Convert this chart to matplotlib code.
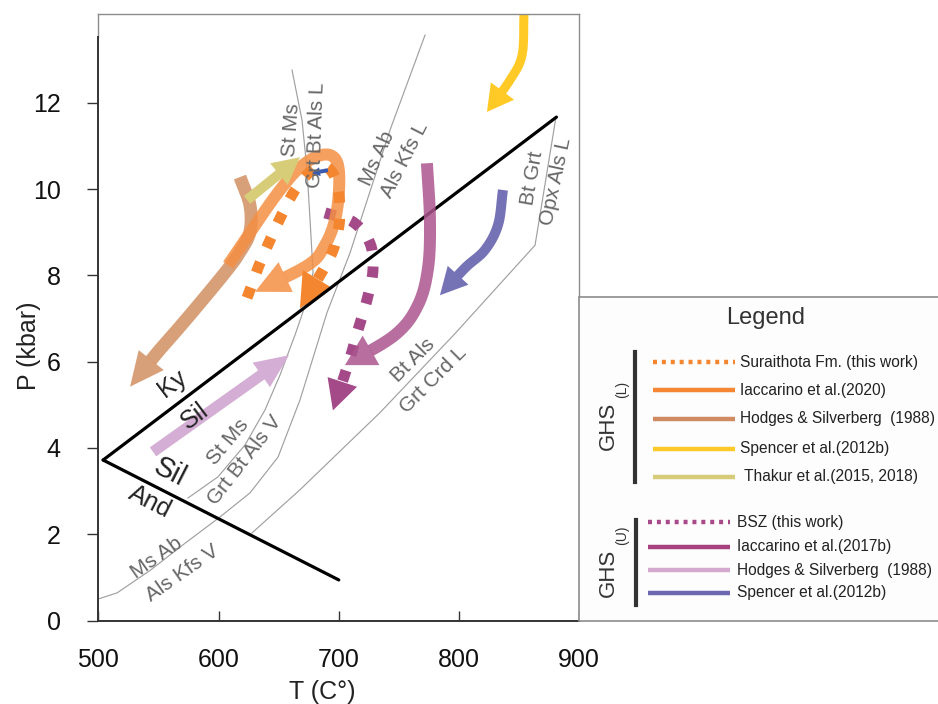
import numpy as np
import matplotlib
matplotlib.use("Agg")
import matplotlib.pyplot as plt
from matplotlib.patches import Polygon, Rectangle

plt.rcParams['font.family'] = ['Liberation Sans', 'DejaVu Sans']

# ---------------- data ----------------
T_TICKS = [500, 600, 700, 800, 900]
P_TICKS = [0, 2, 4, 6, 8, 10, 12]

# Aluminosilicate triple point lines
KY_SIL_T = [504, 881]
KY_SIL_P = [3.72, 11.67]
AND_SIL_T = [504, 700]
AND_SIL_P = [3.72, 0.94]

# Reaction curves (grey)
STMS_T = [574.6, 599.5, 622.0, 638.6, 651.1, 663.6, 673.6, 678.6, 676.1, 673.6, 669.4, 661.1]
STMS_P = [2.84, 3.33, 4.07, 4.88, 5.69, 6.62, 7.43, 8.07, 9.28, 10.44, 11.60, 12.76]
MSAB_T = [500.0, 515.6, 543.0, 572.1, 601.2, 626.2, 649.5, 667.7, 690.1, 709.3, 742.6, 771.7]
MSAB_P = [0.50, 0.64, 1.16, 1.79, 2.40, 2.96, 3.79, 5.11, 7.13, 8.52, 11.37, 13.57]
BTALS_T = [627.8, 667.7, 734.3, 796.6, 863.2, 880.6]
BTALS_P = [2.03, 3.03, 4.82, 6.65, 8.70, 11.67]

# P-T paths (arrows)
SPENCER_L_T = [854.0, 852.4, 842.4, 823.2]
SPENCER_L_P = [14.06, 13.11, 12.53, 11.79]
HODGES_L_T = [617.8, 626.1, 626.1, 617.8, 607.0, 584.6, 565.4, 548.8, 526.4]
HODGES_L_P = [10.28, 9.63, 9.01, 8.54, 8.12, 7.36, 6.73, 6.20, 5.42]
THAKUR_T = [623.7, 667.7]
THAKUR_P = [9.75, 10.74]
HODGES_U_T = [545.5, 658.6]
HODGES_U_P = [3.91, 6.15]
IACC17_T = [773.3, 775.8, 774.2, 765.8, 746.7, 705.1]
IACC17_P = [10.60, 9.28, 8.17, 7.31, 6.62, 5.92]
BSZ_T = [688.5, 711.8, 725.9, 728.4, 723.4, 715.9, 709.3, 695.1]
BSZ_P = [9.45, 9.24, 8.75, 8.12, 7.43, 6.73, 6.08, 4.87]
SPENCER_U_T = [836.5, 832.4, 821.5, 804.9, 784.1]
SPENCER_U_P = [9.98, 9.17, 8.59, 8.17, 7.54]
SMALL_T = [691.0, 677.7]
SMALL_P = [10.44, 10.37]
IACC20_T = [607.9, 622.0, 636.1, 651.1, 665.2, 680.2, 692.7, 699.3, 700.2, 696.8, 688.5, 674.4, 630.3]
IACC20_P = [8.24, 8.82, 9.40, 9.98, 10.44, 10.74, 10.79, 10.56, 9.98, 9.28, 8.70, 8.24, 7.62]
SURAI_T = [623.7, 632.9, 642.8, 652.8, 663.6, 676.1, 688.5, 697.7, 701.0, 697.7, 690.2, 667.7]
SURAI_P = [7.48, 8.18, 8.82, 9.42, 9.98, 10.40, 10.53, 10.21, 9.47, 8.82, 8.29, 7.24]

# Legend
LEG_L_LABELS = ['Suraithota Fm. (this work)', 'Iaccarino et al.(2020)',
                'Hodges & Silverberg  (1988)', 'Spencer et al.(2012b)',
                ' Thakur et al.(2015, 2018)']
LEG_L_COLORS = ['#F4862F', '#F58634', '#D08B62', '#FFC928', '#D6CB78']
LEG_L_DOTTED = [True, False, False, False, False]
LEG_U_LABELS = ['BSZ (this work)', 'Iaccarino et al.(2017b)',
                'Hodges & Silverberg  (1988)', 'Spencer et al.(2012b)']
LEG_U_COLORS = ['#A84A8A', '#A8417F', '#D3A9D0', '#6E68B0']
LEG_U_DOTTED = [True, False, False, False]

# ---------------- figure ----------------
W, H = 938, 704
fig = plt.figure(figsize=(W / 100, H / 100), dpi=100)
ax = fig.add_axes([98.3 / W, 1 - 620.5 / H, 481 / W, 606.5 / H])
ax.set_xlim(500, 900)
ax.set_ylim(0, 14.06)

ax.set_xticks(T_TICKS)
ax.set_yticks(P_TICKS)
ax.tick_params(axis='y', direction='out', length=8, width=1, pad=19,
               labelsize=18, color='#333333', labelcolor='#111111')
ax.tick_params(axis='x', direction='in', length=7, width=1, pad=20,
               labelsize=18, color='#333333', labelcolor='#111111')

ax.spines['right'].set_visible(False)
ax.spines['top'].set_color('#8c8c8c')
ax.spines['top'].set_linewidth(1.0)
for s in ['left', 'bottom']:
    ax.spines[s].set_color('#333333')
    ax.spines[s].set_linewidth(1.4)
ax.spines['left'].set_bounds(0, 13.53)
ax.plot([500, 500], [13.53, 14.06], color='#8c8c8c', lw=1.0, clip_on=False)
ax.plot([900, 900], [7.50, 14.06], color='#8c8c8c', lw=1.0, clip_on=False)

ax.set_xlabel('T (C°)', fontsize=18, color='#222222')
ax.set_ylabel('P (kbar)', fontsize=18, color='#222222')
ax.xaxis.set_label_coords(0.465, -0.098)
ax.yaxis.set_label_coords(-0.12, 0.4526)

# grey reaction curves
for tt, pp in [(STMS_T, STMS_P), (MSAB_T, MSAB_P), (BTALS_T, BTALS_P)]:
    ax.plot(tt, pp, color='#a0a0a0', lw=0.85, zorder=1)

# aluminosilicate lines
ax.plot(KY_SIL_T, KY_SIL_P, color='black', lw=2.3, zorder=3, solid_capstyle='round')
ax.plot(AND_SIL_T, AND_SIL_P, color='black', lw=2.3, zorder=3, solid_capstyle='round')


def catmull_rom(pts, n=24):
    pts = np.asarray(pts, float)
    if len(pts) == 2:
        t = np.linspace(0, 1, n)[:, None]
        return pts[0] + (pts[1] - pts[0]) * t
    P = np.vstack([2 * pts[0] - pts[1], pts, 2 * pts[-1] - pts[-2]])
    out = []
    for i in range(1, len(P) - 2):
        p0, p1, p2, p3 = P[i - 1], P[i], P[i + 1], P[i + 2]
        t = np.linspace(0, 1, n, endpoint=False)[:, None]
        out.append(0.5 * ((2 * p1) + (-p0 + p2) * t
                          + (2 * p0 - 5 * p1 + 4 * p2 - p3) * t ** 2
                          + (-p0 + 3 * p1 - 3 * p2 + p3) * t ** 3))
    out.append(pts[-1][None])
    return np.vstack(out)


def draw_arrow(T, P, color, width, head_w, head_l, alpha=1.0, z=2,
               dotted=False, dash=(1.0, 1.5)):
    trans = ax.transData
    inv = trans.inverted()
    pts = trans.transform(np.column_stack([T, P]))
    path = catmull_rom(pts)
    seg = np.hypot(*np.diff(path, axis=0).T)
    cum = np.concatenate([[0], np.cumsum(seg)])
    sb = cum[-1] - head_l
    base = np.array([np.interp(sb, cum, path[:, 0]), np.interp(sb, cum, path[:, 1])])
    tip = path[-1]
    d = (tip - base) / np.linalg.norm(tip - base)
    nrm = np.array([-d[1], d[0]])
    shaft = np.vstack([path[cum < sb], base + d * 0.5])
    sd = inv.transform(shaft)
    ls = (0, dash) if dotted else '-'
    ax.plot(sd[:, 0], sd[:, 1], color=color, lw=width * 0.72, alpha=alpha,
            ls=ls, solid_capstyle='butt', dash_capstyle='butt',
            solid_joinstyle='round', zorder=z)
    head = inv.transform(np.array([base + nrm * head_w / 2, tip, base - nrm * head_w / 2]))
    ax.add_patch(Polygon(head, closed=True, fc=color, ec='none', alpha=alpha, zorder=z))


draw_arrow(SPENCER_L_T, SPENCER_L_P, '#FFC926', 9, 29, 26, z=2)
draw_arrow(HODGES_U_T, HODGES_U_P, '#D4AED4', 11, 30, 34, z=2)
draw_arrow(SPENCER_U_T, SPENCER_U_P, '#7672B6', 10, 28, 27, z=2)
draw_arrow(HODGES_L_T, HODGES_L_P, '#D28F62', 13, 32, 34, alpha=0.85, z=2.2)
draw_arrow(BSZ_T, BSZ_P, '#A54A89', 11, 31, 30, z=2.3, dotted=True, dash=(1.0, 1.45))
draw_arrow(IACC20_T, IACC20_P, '#F48F43', 12, 33, 34, alpha=0.85, z=2.5)
draw_arrow(SURAI_T, SURAI_P, '#F4862F', 11, 35, 34, z=2.7, dotted=True, dash=(1.0, 1.45))
draw_arrow(THAKUR_T, THAKUR_P, '#D7CD79', 10, 28, 27, z=2.8)
draw_arrow(IACC17_T, IACC17_P, '#AC568E', 12, 34, 30, alpha=0.85, z=3.2)
draw_arrow(SMALL_T, SMALL_P, '#3A5BB0', 4, 9, 8, z=3.5)

# labels of reaction curves
grey = '#666666'
labels = [
    ('St Ms', 660.2, 11.37, 86), ('Grt Bt Als L', 681.0, 11.25, 88),
    ('Ms Ab', 731.8, 10.72, 65), ('Als Kfs L', 755.1, 10.67, 63),
    ('Bt Grt', 860.7, 10.26, 80), ('Opx Als L', 880.6, 10.17, 78),
    ('Bt Als', 761.7, 6.04, 45), ('Grt Crd L', 778.4, 5.57, 45),
    ('St Ms', 607.9, 4.14, 50), ('Grt Bt Als V', 622.0, 3.72, 52),
    ('Ms Ab', 548.8, 1.45, 35), ('Als Kfs V', 569.6, 1.10, 35),
]
for s, t, p, r in labels:
    ax.text(t, p, s, fontsize=15, color=grey, rotation=r, ha='center', va='center',
            rotation_mode='anchor', zorder=4)

for s, t, p, r, fs in [('Ky', 561.4, 5.48, 37, 18), ('Sil', 580.4, 4.74, 37, 18),
                       ('Sil', 559.6, 3.44, -27, 21), ('And', 543.1, 2.75, -27, 18)]:
    ax.text(t, p, s, fontsize=fs, color='#222222', rotation=r, ha='center', va='center',
            rotation_mode='anchor', zorder=4)

# ---------------- legend (pixel overlay) ----------------
lx = fig.add_axes([0, 0, 1, 1])
lx.set_xlim(0, W)
lx.set_ylim(H, 0)
lx.axis('off')
lx.add_patch(Rectangle((579.3, 297), 420, 324, fc='#fdfdfd', ec='#8c8c8c', lw=1.2))
lx.text(766, 318, 'Legend', fontsize=17, color='#333333', ha='center', va='center')

# GHS(L)
lx.plot([635, 635], [352, 482], color='#333333', lw=3)
lx.text(608, 426, 'GHS', fontsize=16, color='#333333', rotation=90, ha='center', va='center')
lx.text(622, 389, '(L)', fontsize=10, color='#333333', rotation=90, ha='center', va='center')
for i, (lab, col, dot) in enumerate(zip(LEG_L_LABELS, LEG_L_COLORS, LEG_L_DOTTED)):
    y = [362, 390, 419, 449, 477][i]
    lx.plot([653, 735], [y, y], color=col, lw=3.2,
            ls=(0, (0.9, 1.1)) if dot else '-', solid_capstyle='butt', dash_capstyle='butt')
    lx.text(740, y, lab, fontsize=11.2, color='#222222', ha='left', va='center')

# GHS(U)
lx.plot([636, 636], [520, 605], color='#333333', lw=3)
lx.text(608, 573, 'GHS', fontsize=16, color='#333333', rotation=90, ha='center', va='center')
lx.text(622, 535, '(U)', fontsize=10, color='#333333', rotation=90, ha='center', va='center')
for i, (lab, col, dot) in enumerate(zip(LEG_U_LABELS, LEG_U_COLORS, LEG_U_DOTTED)):
    y = [522, 547, 570, 593][i]
    lx.plot([648, 730], [y, y], color=col, lw=3.2,
            ls=(0, (0.9, 1.1)) if dot else '-', solid_capstyle='butt', dash_capstyle='butt')
    lx.text(737, y, lab, fontsize=11.2, color='#222222', ha='left', va='center')

fig.savefig('out.png', dpi=100)
